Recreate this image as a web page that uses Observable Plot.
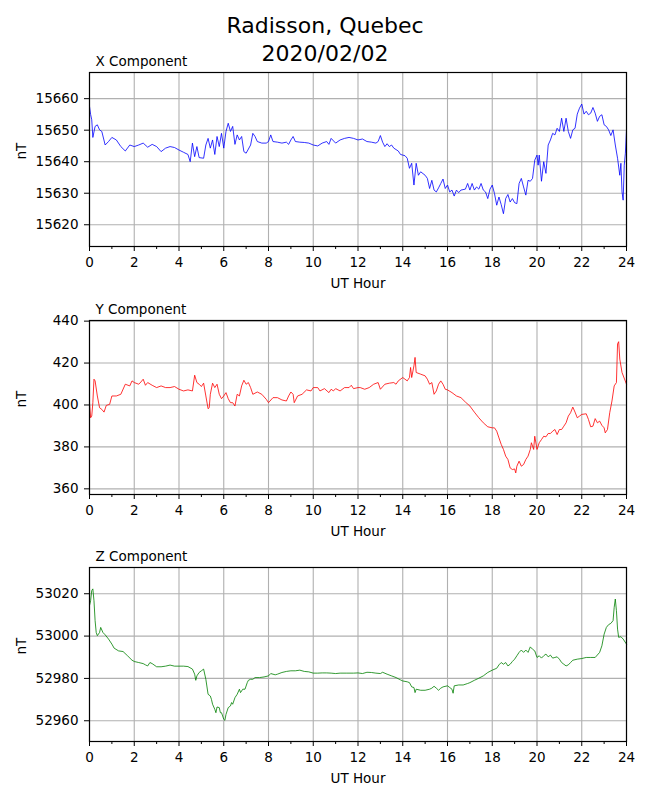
<!DOCTYPE html>
<html>
<head>
<meta charset="utf-8">
<script src="https://cdn.jsdelivr.net/npm/d3@7"></script>
<script src="https://cdn.jsdelivr.net/npm/@observablehq/plot@0.6"></script>
<style>
  html, body { margin: 0; padding: 0; background: white; }
  #fig { position: relative; width: 650px; height: 800px; background: white; font-family: "DejaVu Sans", sans-serif; }
  #title { position: absolute; top: 12px; left: 0; width: 650px; text-align: center; font-size: 22px; line-height: 28px; color: black; }
  .panel { position: absolute; left: 0; }
</style>
</head>
<body>
<div id="fig">
  <div id="title">Radisson, Quebec<br>2020/02/02</div>
</div>
<script>
// ---- Data (UT hour, nT) ----
const xHours = [0,0.05,0.1,0.15,0.25,0.35,0.45,0.55,0.7,0.85,1.0,1.2,1.4,1.6,1.8,2.0,2.2,2.4,2.6,2.8,3.0,3.2,3.4,3.6,3.8,4.0,4.2,4.4,4.5,4.6,4.7,4.8,4.9,5.1,5.2,5.3,5.4,5.5,5.6,5.7,5.8,5.9,6.0,6.1,6.2,6.3,6.4,6.5,6.6,6.7,6.8,6.9,7.0,7.2,7.3,7.4,7.5,7.7,7.9,8.0,8.1,8.2,8.4,8.6,8.8,8.9,9.0,9.1,9.2,9.4,9.6,9.8,10.0,10.2,10.4,10.6,10.7,10.8,11.0,11.2,11.4,11.6,11.8,12.0,12.2,12.4,12.6,12.8,12.9,13.0,13.1,13.2,13.3,13.4,13.5,13.6,13.8,13.9,14.0,14.1,14.2,14.3,14.4,14.5,14.6,14.7,14.8,15.0,15.1,15.2,15.3,15.4,15.5,15.6,15.7,15.8,15.9,16.0,16.1,16.2,16.3,16.4,16.5,16.6,16.8,16.9,17.0,17.1,17.2,17.3,17.4,17.5,17.6,17.7,17.8,17.9,18.0,18.1,18.2,18.3,18.4,18.5,18.6,18.7,18.8,18.9,19.0,19.1,19.2,19.3,19.4,19.5,19.6,19.7,19.8,19.9,20.0,20.05,20.1,20.2,20.3,20.4,20.5,20.6,20.7,20.8,20.9,21.0,21.1,21.2,21.3,21.4,21.5,21.6,21.7,21.8,21.9,22.0,22.1,22.2,22.3,22.4,22.5,22.6,22.7,22.8,22.9,23.0,23.1,23.2,23.3,23.4,23.5,23.6,23.7,23.75,23.8,23.85,23.9,23.95,24.0];
const xValues = [15657.6,15655.0,15653.3,15647.7,15651.2,15651.7,15650.1,15649.6,15645.3,15646.4,15647.7,15646.9,15644.8,15643.4,15645.3,15644.8,15645.3,15645.9,15644.6,15645.5,15644.8,15643.2,15644.3,15644.8,15644.5,15643.7,15643.0,15642.3,15640.0,15645.9,15641.6,15644.8,15641.3,15641.1,15645.3,15647.4,15644.3,15646.9,15642.3,15648.0,15644.8,15649.0,15644.3,15649.6,15652.2,15649.6,15651.2,15645.5,15648.5,15646.9,15648.0,15643.2,15642.7,15645.3,15649.0,15648.0,15646.4,15645.9,15645.9,15646.4,15648.5,15646.4,15646.2,15645.9,15646.2,15645.5,15646.9,15648.0,15646.4,15646.2,15646.1,15645.9,15645.3,15645.0,15645.9,15646.4,15645.5,15647.4,15645.9,15646.9,15647.4,15647.7,15647.4,15646.9,15647.2,15646.4,15646.2,15645.9,15646.4,15648.3,15646.2,15644.8,15645.7,15644.8,15645.3,15644.3,15643.4,15642.3,15642.1,15641.9,15641.1,15637.9,15639.5,15632.6,15639.5,15635.7,15636.8,15635.7,15634.7,15631.5,15634.1,15631.0,15630.4,15631.7,15633.1,15634.5,15631.5,15632.6,15630.4,15631.0,15629.1,15631.0,15630.2,15631.0,15631.3,15633.1,15631.0,15633.1,15631.0,15632.0,15631.3,15633.1,15631.0,15630.4,15628.3,15631.3,15632.6,15629.9,15626.2,15628.8,15626.4,15623.5,15628.3,15629.6,15627.2,15628.3,15627.0,15626.7,15633.1,15634.7,15632.0,15629.4,15634.1,15633.8,15634.7,15640.5,15642.1,15638.9,15642.1,15633.8,15640.0,15636.3,15645.3,15646.9,15649.0,15648.5,15650.6,15649.6,15653.8,15649.6,15653.8,15649.6,15647.4,15650.1,15650.6,15655.1,15657.0,15658.3,15655.1,15656.0,15654.9,15655.4,15657.2,15655.4,15652.8,15654.4,15654.9,15651.7,15651.2,15650.1,15648.3,15650.1,15645.3,15641.1,15635.7,15639.5,15630.4,15627.8,15638.9,15642.7,15650.1];

const yHours = [0.0,0.05,0.1,0.15,0.2,0.25,0.35,0.45,0.55,0.65,0.75,0.9,1.0,1.2,1.4,1.6,1.8,1.9,2.0,2.2,2.3,2.4,2.5,2.6,2.8,3.0,3.2,3.4,3.6,3.8,4.0,4.2,4.4,4.6,4.7,4.8,4.9,5.0,5.1,5.2,5.3,5.35,5.4,5.5,5.6,5.7,5.8,5.9,6.0,6.1,6.2,6.3,6.4,6.5,6.6,6.7,6.8,6.9,7.0,7.1,7.2,7.3,7.5,7.7,7.9,8.0,8.2,8.4,8.6,8.8,8.9,9.0,9.1,9.15,9.3,9.5,9.7,9.9,10.0,10.2,10.3,10.5,10.7,10.8,10.9,11.0,11.2,11.4,11.6,11.7,11.8,12.0,12.1,12.3,12.5,12.7,12.9,13.0,13.2,13.4,13.6,13.7,13.8,14.0,14.2,14.3,14.35,14.4,14.5,14.55,14.6,14.8,15.0,15.1,15.2,15.3,15.4,15.5,15.6,15.7,15.8,15.9,16.0,16.2,16.4,16.6,16.8,17.0,17.2,17.4,17.6,17.8,18.0,18.1,18.2,18.3,18.4,18.5,18.6,18.7,18.8,18.9,19.0,19.05,19.1,19.2,19.3,19.4,19.5,19.6,19.7,19.75,19.8,19.85,19.9,20.0,20.1,20.2,20.3,20.4,20.5,20.6,20.7,20.8,20.9,21.0,21.1,21.2,21.3,21.4,21.5,21.6,21.7,21.8,21.9,22.0,22.2,22.3,22.4,22.5,22.6,22.7,22.8,22.9,23.0,23.05,23.15,23.25,23.35,23.45,23.55,23.6,23.65,23.7,23.8,24.0];
const yValues = [401.1,393.9,394.7,401.1,412.3,411.5,404.3,398.7,397.9,396.6,399.8,400.3,404.3,404.3,405.1,409.9,409.1,411.5,410.7,409.9,411.0,412.3,409.4,410.7,409.4,408.3,409.1,408.3,408.3,408.8,407.5,406.7,407.2,406.7,414.2,410.7,409.9,408.8,410.4,404.3,398.2,398.7,405.1,410.4,408.3,409.9,405.1,403.0,404.3,405.9,403.0,401.1,401.1,399.5,405.1,404.3,409.1,411.8,409.9,410.7,408.3,405.1,406.2,405.1,402.7,401.1,403.5,403.5,402.4,401.9,404.3,406.2,405.1,401.1,404.3,405.1,407.2,406.7,408.3,408.3,406.7,407.8,405.9,407.5,406.7,407.8,406.7,408.3,408.3,409.4,407.8,408.3,408.3,407.5,408.3,409.9,410.7,407.5,409.9,410.4,410.7,409.9,411.5,413.1,411.5,413.1,417.9,413.1,418.7,422.7,415.5,414.7,413.9,412.3,409.9,410.7,405.1,406.7,409.9,411.5,409.9,407.5,407.2,405.9,404.3,403.5,401.4,399.5,396.6,393.9,391.5,389.6,389.1,389.1,387.5,384.3,381.2,378.8,375.6,374.0,370.0,369.2,369.5,367.6,370.8,373.2,370.8,371.6,374.0,375.6,378.8,382.0,380.4,378.8,385.1,378.8,382.0,383.5,385.1,384.8,386.4,386.4,387.5,388.3,385.9,388.3,388.3,389.9,391.5,394.7,396.3,399.0,396.6,393.9,394.7,395.5,395.8,393.1,389.6,389.9,393.5,391.5,392.3,390.3,389.1,386.7,388.3,396.3,401.9,409.1,410.7,429.1,430.2,421.9,415.5,409.9];

const zHours = [0.0,0.05,0.1,0.15,0.2,0.25,0.3,0.35,0.45,0.5,0.6,0.7,0.85,1.0,1.1,1.3,1.5,1.7,1.9,2.0,2.2,2.4,2.5,2.6,2.7,2.8,3.0,3.2,3.4,3.6,3.8,4.0,4.2,4.4,4.6,4.7,4.75,4.8,4.9,5.0,5.1,5.2,5.3,5.4,5.45,5.5,5.6,5.65,5.7,5.8,5.85,5.9,6.0,6.05,6.1,6.2,6.3,6.35,6.4,6.5,6.6,6.7,6.75,6.85,6.95,7.05,7.1,7.2,7.3,7.4,7.6,7.8,8.0,8.1,8.3,8.4,8.6,8.8,9.0,9.2,9.4,9.6,9.8,10.0,10.2,10.4,10.6,10.8,11.0,11.2,11.5,11.8,12.0,12.2,12.4,12.6,12.8,13.0,13.1,13.3,13.5,13.7,13.9,14.0,14.2,14.3,14.4,14.5,14.55,14.6,14.8,15.0,15.2,15.3,15.4,15.5,15.6,15.7,15.8,16.0,16.1,16.2,16.25,16.3,16.5,16.7,16.9,17.0,17.2,17.4,17.6,17.8,18.0,18.2,18.3,18.4,18.5,18.6,18.7,18.8,18.9,19.0,19.1,19.2,19.3,19.4,19.5,19.6,19.7,19.8,19.9,20.0,20.1,20.2,20.3,20.4,20.5,20.6,20.7,20.8,20.9,21.0,21.1,21.2,21.3,21.4,21.5,21.6,21.8,22.0,22.2,22.4,22.6,22.8,22.9,23.0,23.1,23.2,23.3,23.4,23.45,23.5,23.55,23.6,23.65,23.75,23.85,24.0];
const zValues = [53014.4,53016.7,53021.5,53022.3,53016.7,53007.3,53001.7,53000.2,53001.7,53004.1,53001.7,53000.6,52998.6,52996.2,52994.3,52993.0,52992.7,52990.7,52988.6,52988.0,52987.5,52987.0,52986.4,52985.9,52987.5,52987.0,52985.5,52985.5,52985.8,52986.3,52985.8,52985.8,52985.8,52985.6,52984.4,52982.0,52979.1,52981.2,52982.8,52983.6,52984.4,52979.6,52972.5,52971.7,52970.1,52967.8,52965.4,52963.8,52966.5,52966.2,52963.8,52963.8,52960.7,52960.2,52963.0,52966.2,52967.0,52968.6,52967.8,52970.9,52972.5,52974.9,52973.3,52974.9,52974.9,52978.0,52979.1,52979.6,52979.6,52980.4,52980.4,52980.7,52981.2,52982.3,52981.7,52982.0,52982.8,52983.3,52983.6,52983.6,52983.9,52983.3,52983.1,52982.5,52982.5,52982.6,52982.6,52982.5,52982.3,52982.5,52982.5,52982.5,52982.6,52982.3,52982.9,52982.8,52982.5,52982.3,52982.9,52982.0,52981.2,52980.4,52979.3,52978.8,52978.4,52978.0,52976.0,52975.7,52973.3,52974.9,52974.4,52974.4,52974.9,52975.4,52976.3,52975.4,52974.4,52975.4,52976.0,52976.5,52975.7,52974.9,52973.0,52976.5,52976.9,52976.9,52977.6,52978.0,52979.1,52980.1,52981.2,52982.8,52983.9,52984.8,52986.4,52987.5,52986.7,52987.5,52985.9,52986.7,52988.0,52989.1,52990.7,52992.3,52993.4,52992.3,52993.4,52992.3,52994.9,52993.8,52993.0,52989.9,52990.7,52989.6,52990.7,52991.5,52990.2,52991.0,52989.6,52989.9,52990.2,52989.1,52987.5,52986.7,52985.9,52986.4,52987.5,52988.6,52989.1,52989.4,52989.9,52989.9,52989.9,52992.3,52995.4,53000.9,53004.1,53005.4,53006.0,53007.3,53013.6,53017.5,53012.0,53003.3,52999.4,52999.7,52998.6,52996.2];

const hourTicks = [0,2,4,6,8,10,12,14,16,18,20,22,24];
const minorHourTicks = [1,3,5,7,9,11,13,15,17,19,21,23];
const xTicks = [15620,15630,15640,15650,15660];
const yTicks = [360,380,400,420,440];
const zTicks = [52960,52980,53000,53020];

const panels = [
  {label: "X Component", hours: xHours, values: xValues, color: "#0000ff", domain: [15613.1, 15668.3], ticks: xTicks, top: 40},
  {label: "Y Component", hours: yHours, values: yValues, color: "#ff0000", domain: [357.3, 440.3], ticks: yTicks, top: 288},
  {label: "Z Component", hours: zHours, values: zValues, color: "#008000", domain: [52950.2, 53032.4], ticks: zTicks, top: 535}
];

const fig = document.getElementById("fig");
for (const p of panels) {
  const data = p.hours.map((h, i) => ({h, v: p.values[i]}));
  const svg = Plot.plot({
    width: 650,
    height: 248,
    marginLeft: 89,
    marginRight: 24,
    marginTop: 32,
    marginBottom: 42,
    style: {fontFamily: "'DejaVu Sans', sans-serif", fontSize: "13.5px", background: "transparent", color: "black", overflow: "visible"},
    x: {domain: [0, 24]},
    y: {domain: p.domain},
    marks: [
      Plot.gridX(hourTicks, {stroke: "#b0b0b0", strokeOpacity: 1, strokeWidth: 1.1}),
      Plot.gridY(p.ticks, {stroke: "#b0b0b0", strokeOpacity: 1, strokeWidth: 1.1}),
      Plot.line(data, {x: "h", y: "v", stroke: p.color, strokeWidth: 0.8}),
      Plot.frame({stroke: "black", strokeWidth: 1.2}),
      Plot.axisX(hourTicks, {tickSize: 5, tickPadding: 6, label: null, stroke: "black", tickFormat: d => String(d)}),
      Plot.axisX(minorHourTicks, {tickSize: 3, text: null, label: null, stroke: "black"}),
      Plot.axisY(p.ticks, {tickSize: 5, tickPadding: 6, label: null, stroke: "black", tickFormat: d => String(d)}),
      Plot.text([p.label], {text: d => d, frameAnchor: "top-left", dx: 6, dy: -7, lineAnchor: "bottom", textAnchor: "start", fill: "black"}),
      Plot.text(["UT Hour"], {text: d => d, frameAnchor: "bottom", dy: 41, lineAnchor: "bottom", fill: "black"}),
      Plot.text(["nT"], {text: d => d, frameAnchor: "left", dx: -67.5, rotate: -90, fill: "black"})
    ]
  });
  svg.classList.add("panel");
  svg.style.top = p.top + "px";
  svg.style.position = "absolute";
  fig.appendChild(svg);
}
</script>
</body>
</html>
